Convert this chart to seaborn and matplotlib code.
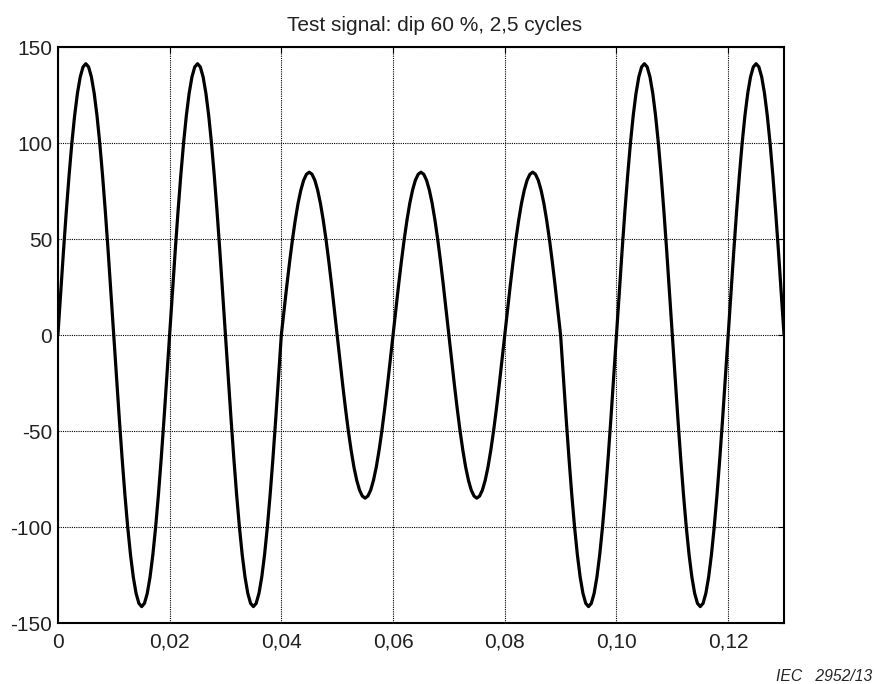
import numpy as np
import pandas as pd
import matplotlib
matplotlib.use("Agg")
import matplotlib.pyplot as plt
import seaborn as sns

full_pos = [0, 22.1, 43.7, 64.2, 83.1, 100.0, 114.4, 126.0, 134.5, 139.7,
            141.4, 139.7, 134.5, 126.0, 114.4, 100.0, 83.1, 64.2, 43.7, 22.1]
full_neg = [0, -22.1, -43.7, -64.2, -83.1, -100.0, -114.4, -126.0, -134.5, -139.7,
            -141.4, -139.7, -134.5, -126.0, -114.4, -100.0, -83.1, -64.2, -43.7, -22.1]
dip_pos = [0, 13.3, 26.2, 38.5, 49.9, 60.0, 68.7, 75.6, 80.7, 83.8,
           84.9, 83.8, 80.7, 75.6, 68.7, 60.0, 49.9, 38.5, 26.2, 13.3]
dip_neg = [0, -13.3, -26.2, -38.5, -49.9, -60.0, -68.7, -75.6, -80.7, -83.8,
           -84.9, -83.8, -80.7, -75.6, -68.7, -60.0, -49.9, -38.5, -26.2, -13.3]

# 2 full cycles, 2.5 cycles dipped to 60 %, then 2 full cycles
signal = (full_pos + full_neg + full_pos + full_neg
          + dip_pos + dip_neg + dip_pos + dip_neg + dip_pos
          + full_neg + full_pos + full_neg + full_pos
          + [0])
sample_step = 0.0005

x_ticks = [0, 0.02, 0.04, 0.06, 0.08, 0.10, 0.12]
x_labels = ["0", "0,02", "0,04", "0,06", "0,08", "0,10", "0,12"]
y_ticks = [-150, -100, -50, 0, 50, 100, 150]

df = pd.DataFrame({"t": np.arange(len(signal)) * sample_step, "v": signal})

# --- Plot ---
sns.set_style("white")
plt.rcParams["font.family"] = ["Liberation Sans", "DejaVu Sans"]
plt.rcParams["axes.unicode_minus"] = False

fig = plt.figure(figsize=(8.77, 6.84), dpi=100)
ax = fig.add_axes([0.066, 0.089, 0.828, 0.842])

sns.lineplot(data=df, x="t", y="v", ax=ax, color="black", linewidth=2.3)

ax.set_xlim(0, 0.13)
ax.set_ylim(-150, 150)
ax.set_xticks(x_ticks)
ax.set_xticklabels(x_labels)
ax.set_yticks(y_ticks)
ax.set_xlabel("")
ax.set_ylabel("")
ax.grid(True, linestyle=(0, (1, 1)), color="black", linewidth=0.8)
ax.tick_params(direction="in", top=True, right=True, length=4,
               labelsize=15, colors="black", labelcolor="#222222")
ax.tick_params(axis="x", pad=7)
ax.tick_params(axis="y", pad=4)
for sp in ax.spines.values():
    sp.set_color("black")
    sp.set_linewidth(1.5)

fig.text(0.496, 0.955, "Test signal: dip 60 %, 2,5 cycles", ha="center",
         va="baseline", fontsize=15, color="#222222")
fig.text(0.995, 0.004, "IEC   2952/13", ha="right", va="baseline",
         fontsize=11.3, style="italic")

fig.savefig("out.png", dpi=100)
